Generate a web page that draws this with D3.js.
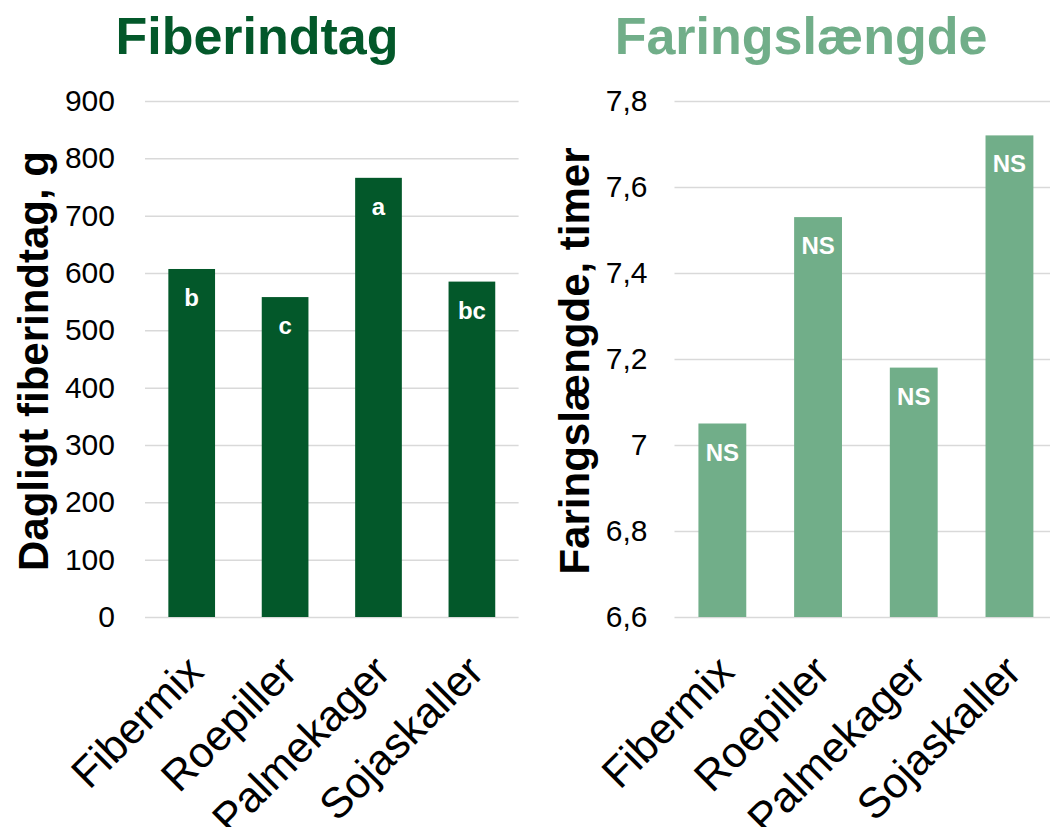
<!DOCTYPE html>
<html>
<head>
<meta charset="utf-8">
<script src="https://cdn.jsdelivr.net/npm/d3@7"></script>
<style>
  html, body { margin: 0; padding: 0; background: #fff; }
  svg { display: block; font-family: "Liberation Sans", Arial, sans-serif; }
</style>
</head>
<body>
<svg id="chart" width="1050" height="827"></svg>
<script>
const categories = ["Fibermix", "Roepiller", "Palmekager", "Sojaskaller"];
const fiberValues = [607, 558, 766, 585];
const fiberLetters = ["b", "c", "a", "bc"];
const fiberTicks = [0, 100, 200, 300, 400, 500, 600, 700, 800, 900];
const farValues = [7.05, 7.53, 7.18, 7.72];
const farLetters = ["NS", "NS", "NS", "NS"];
const farTicks = [6.6, 6.8, 7.0, 7.2, 7.4, 7.6, 7.8];

const darkGreen = "#03582A";
const lightGreen = "#71AE89";
const gridColor = "#D9D9D9";

const svg = d3.select("#chart");
const commaFmt = d => String(+d.toFixed(1)).replace(".", ",");

function panel(cfg) {
  const g = svg.append("g");
  const x = d3.scaleBand().domain(categories).range(cfg.xRange)
    .paddingInner(0.5).paddingOuter(0.25);
  const y = d3.scaleLinear().domain(cfg.yDomain).range([617, 101]);

  const axis = d3.axisLeft(y).tickValues(cfg.ticks)
    .tickSize(-(cfg.xRange[1] - cfg.xRange[0]))
    .tickPadding(cfg.tickPad)
    .tickFormat(cfg.fmt);
  const ag = g.append("g").attr("transform", `translate(${cfg.xRange[0]},0)`).call(axis);
  ag.select(".domain").remove();
  ag.selectAll(".tick line").attr("stroke", gridColor).attr("stroke-width", 1.5);
  ag.selectAll(".tick text").attr("fill", "#000").style("font-size", "30px")
    .style("font-family", "'Liberation Sans', Arial, sans-serif");

  g.selectAll("rect.bar").data(cfg.values).join("rect")
    .attr("class", "bar")
    .attr("x", (d, i) => x(categories[i]))
    .attr("width", x.bandwidth())
    .attr("y", d => y(d))
    .attr("height", d => y(cfg.yDomain[0]) - y(d))
    .attr("fill", cfg.color);

  g.selectAll("text.lbl").data(cfg.values).join("text")
    .attr("class", "lbl")
    .attr("x", (d, i) => x(categories[i]) + x.bandwidth() / 2)
    .attr("y", d => y(d) + 37)
    .attr("text-anchor", "middle")
    .attr("fill", "#fff")
    .style("font-size", "24px").style("font-weight", "bold")
    .text((d, i) => cfg.letters[i]);

  g.selectAll("text.cat").data(categories).join("text")
    .attr("class", "cat")
    .attr("transform", d => `translate(${x(d) + x.bandwidth() / 2 + 14},674) rotate(-45)`)
    .attr("text-anchor", "end")
    .attr("fill", "#000")
    .style("font-size", "43px")
    .text(d => d);

  g.append("text")
    .attr("transform", `translate(${cfg.titleX},361) rotate(-90)`)
    .attr("text-anchor", "middle")
    .attr("fill", "#000")
    .style("font-size", "42px").style("font-weight", "bold")
    .text(cfg.yTitle);

  g.append("text")
    .attr("x", cfg.headX).attr("y", 54)
    .attr("text-anchor", "middle")
    .attr("fill", cfg.color)
    .style("font-size", "52px").style("font-weight", "bold")
    .text(cfg.title);
}

panel({
  xRange: [145, 518.6], yDomain: [0, 900], ticks: fiberTicks, tickPad: 30,
  fmt: d => String(d), values: fiberValues, letters: fiberLetters, color: darkGreen,
  yTitle: "Dagligt fiberindtag, g", titleX: 48, title: "Fiberindtag", headX: 257
});
panel({
  xRange: [674.5, 1057.3], yDomain: [6.6, 7.8], ticks: farTicks, tickPad: 27,
  fmt: commaFmt, values: farValues, letters: farLetters, color: lightGreen,
  yTitle: "Faringslængde, timer", titleX: 589, title: "Faringslængde", headX: 801
});
</script>
</body>
</html>
